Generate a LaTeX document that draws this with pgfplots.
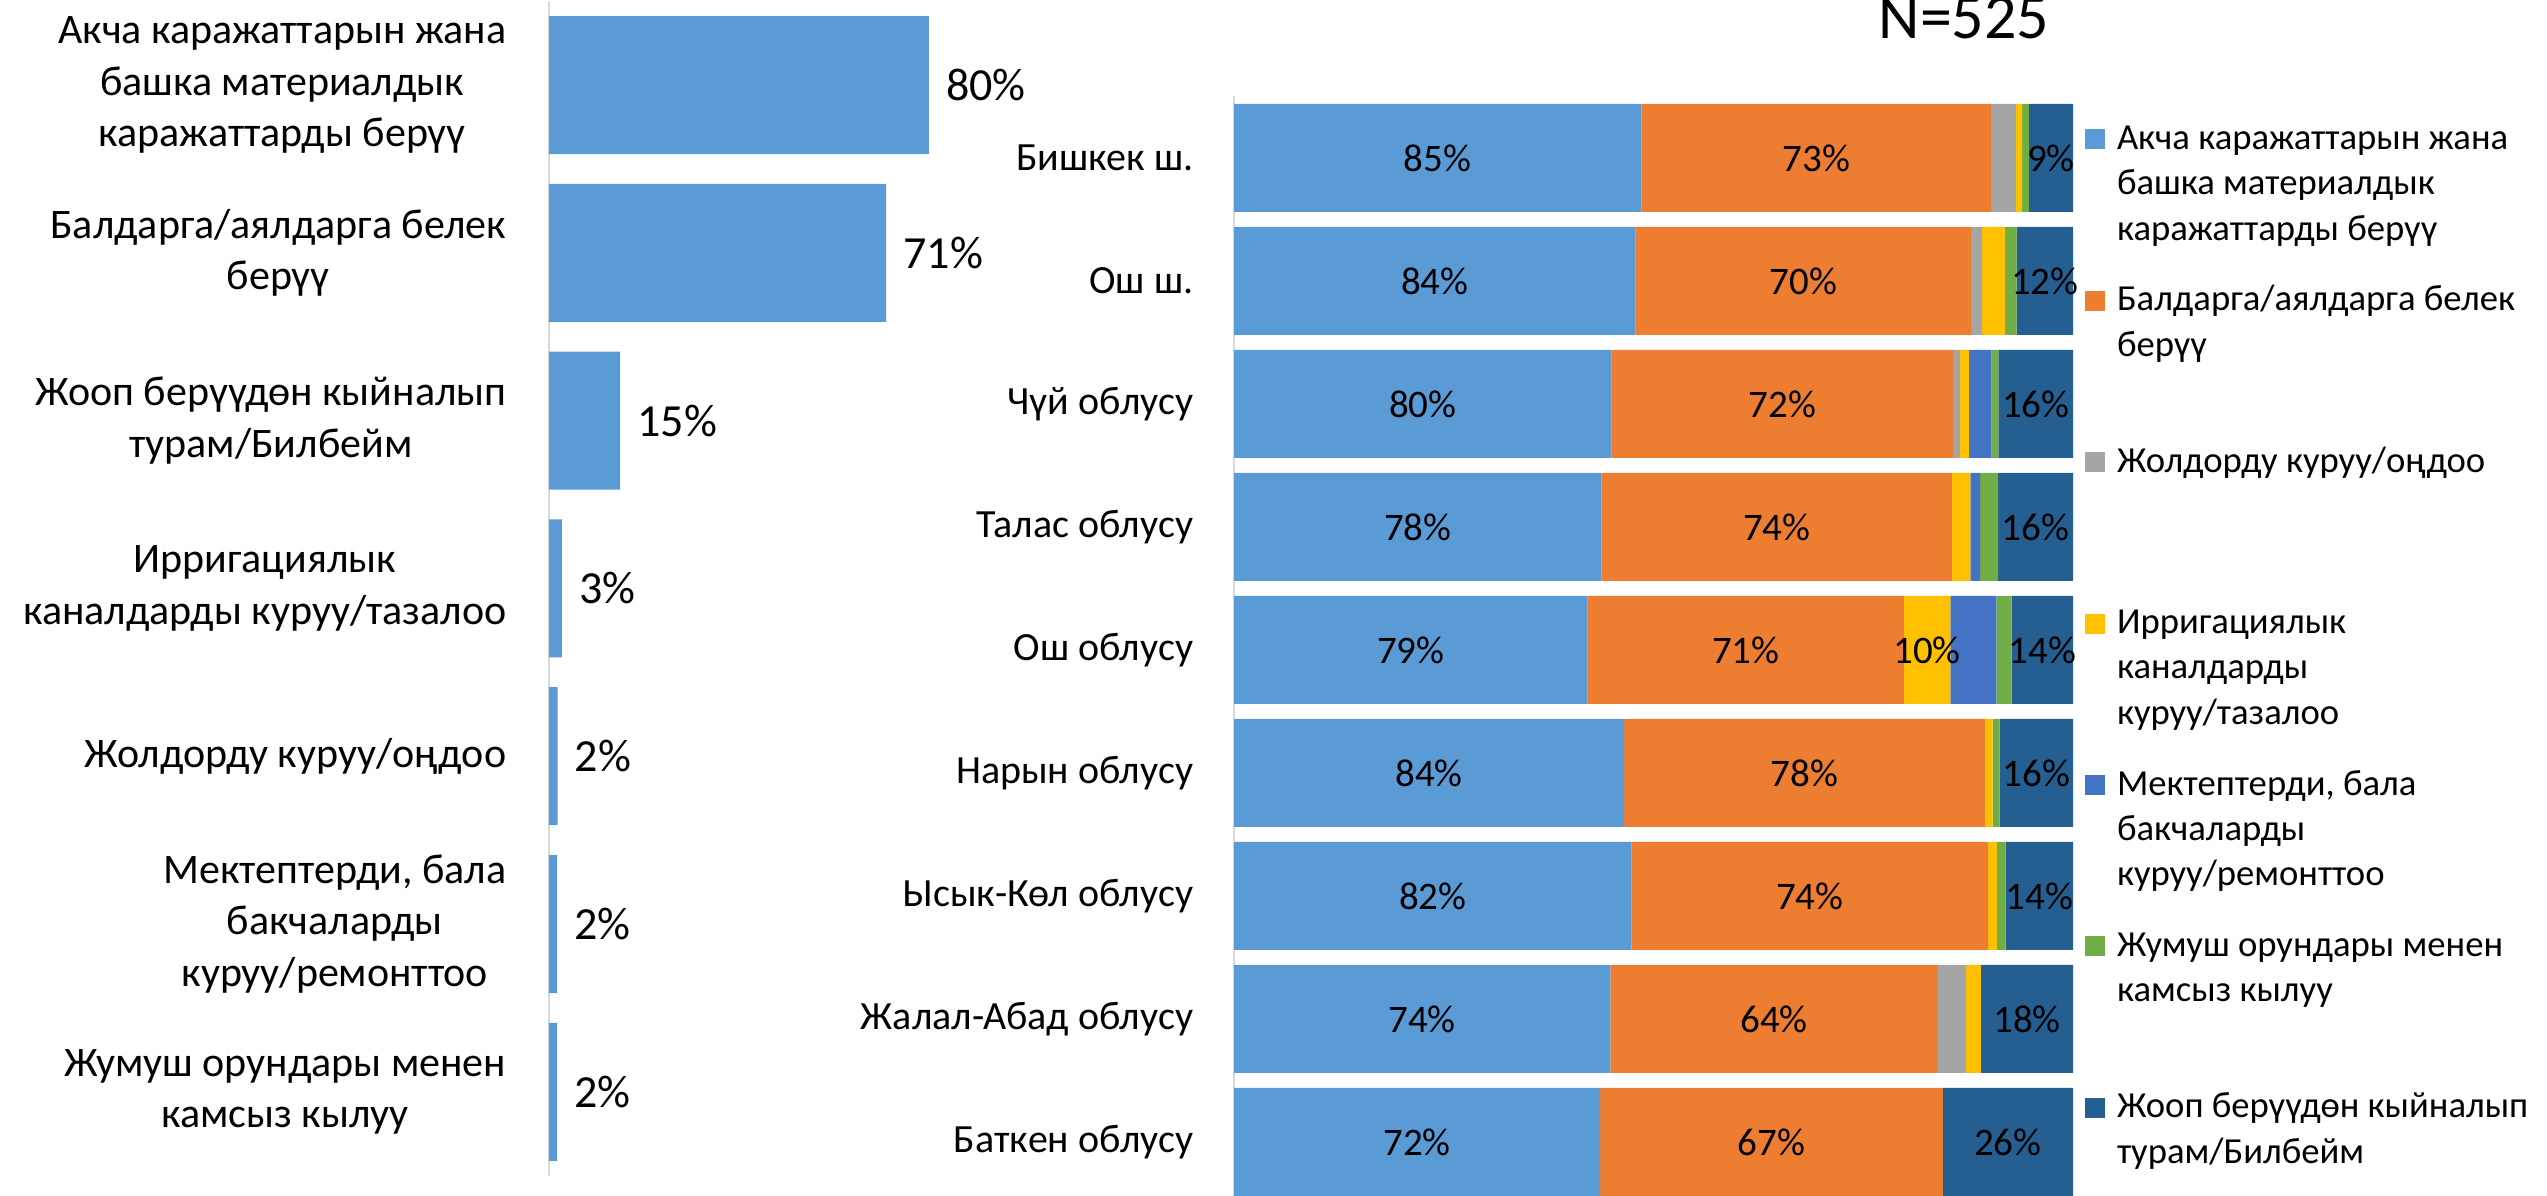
\documentclass[border=0pt]{standalone}
\usepackage{fontspec}
\setmainfont{Carlito}
\usepackage{pgfplots}
\usepackage{pgfplotstable}
\pgfplotsset{compat=1.18}
\definecolor{cA}{HTML}{5B9BD5}
\definecolor{cB}{HTML}{ED7D31}
\definecolor{cC}{HTML}{A5A5A5}
\definecolor{cD}{HTML}{FFC000}
\definecolor{cE}{HTML}{4472C4}
\definecolor{cF}{HTML}{70AD47}
\definecolor{cG}{HTML}{255E91}
\definecolor{axgray}{HTML}{D9D9D9}

\pgfplotstableread{
i v
0 80
1 71
2 15
3 2.7
4 1.8
5 1.7
6 1.7
}\leftdata

\pgfplotstableread{
i a b c d e f g tot
0 85 73 5.2 1.3 0 1.4 9.2 175.1
1 84 70.2 2.3 4.8 0 2.4 11.8 175.5
2 80 72.4 1.4 2.0 4.7 1.5 15.8 177.8
3 78 74.3 0 3.9 2.1 3.8 15.9 178.0
4 79 70.6 0 10.4 10.3 3.4 13.7 187.4
5 84 77.7 0 1.7 0 1.5 15.8 180.7
6 82 73.6 0 1.8 0 1.8 13.9 173.1
7 74 64.4 5.6 2.9 0 0 18.1 165.0
8 72 67.4 0 0 0 0 25.6 165.0
}\rightdata

\newcommand{\pct}[1]{\pgfmathprintnumber[fixed,precision=0,assume math mode=true]{#1}\%}

\begin{document}
\begin{tikzpicture}
\path[use as bounding box] (0,0) rectangle (764.1pt,358.8pt);

% ---------------- left chart ----------------
\begin{axis}[
  at={(164.7pt,358.47pt)}, anchor=north west,
  scale only axis, width=142.5pt, height=352.4pt,
  xbar, bar width=41.4pt,
  xmin=0, xmax=100, ymin=-0.5, ymax=6.5, y dir=reverse,
  axis lines*=left,
  x axis line style={draw=none},
  y axis line style={draw=axgray, line width=0.6pt},
  xtick=\empty, ytick={0,...,6}, major tick length=0pt,
  yticklabels={
    {Акча каражаттарын жана\\башка материалдык\\каражаттарды берүү},
    {Балдарга/аялдарга белек\\берүү},
    {Жооп берүүдөн кыйналып\\турам/Билбейм},
    {Ирригациялык\\каналдарды куруу/тазалоо},
    {Жолдорду куруу/оңдоо},
    {Мектептерди, бала\\бакчаларды\\куруу/ремонттоо},
    {Жумуш орундары менен\\камсыз кылуу}},
  yticklabel style={align=center, font=\fontsize{12.6}{15.4}\selectfont, inner sep=0pt, xshift=-12.6pt},
  clip=false,
  nodes near coords={\pct{\pgfplotspointmeta}},
  every node near coord/.append style={font=\fontsize{13.8}{16.6}\selectfont, inner sep=0pt, anchor=west, xshift=5pt, text=black},
]
\addplot[fill=cA, draw=none] table[x=v, y=i] {\leftdata};
\end{axis}

% ---------------- right chart ----------------
\begin{axis}[
  at={(370.2pt,329.85pt)}, anchor=north west,
  scale only axis, width=251.7pt, height=332.1pt,
  xbar stacked, bar width=32.4pt,
  xmin=0, xmax=100, ymin=-0.5, ymax=8.5, y dir=reverse,
  axis lines*=left,
  x axis line style={draw=none},
  y axis line style={draw=axgray, line width=0.6pt},
  xtick=\empty, ytick={0,...,8}, major tick length=0pt,
  yticklabels={Бишкек ш., Ош ш., Чүй облусу, Талас облусу, Ош облусу, Нарын облусу, Ысык-Көл облусу, Жалал-Абад облусу, Баткен облусу},
  yticklabel style={font=\fontsize{12}{14.6}\selectfont, inner sep=0pt, xshift=-12pt},
  clip=false,
  legend image code/.code={\fill[#1] (0pt,0pt) rectangle (6pt,6pt);},
  legend style={draw=none, fill=none, at={(1,1)}, anchor=north west,
    xshift=3.6pt, yshift=-6.35pt, inner sep=0pt, outer sep=0pt,
    row sep=37.4pt, column sep=3.6pt,
    nodes={inner sep=0pt}, cells={anchor=base west},
    font=\fontsize{11}{13.6}\selectfont},
  every node near coord/.append style={font=\fontsize{11.7}{14}\selectfont, inner sep=0pt, anchor=center, text=black},
]
\addplot[fill=cA, draw=none,
  visualization depends on={\thisrow{a} \as \rv},
  nodes near coords={\pct{\rv}}]
  table[x expr=\thisrow{a}/\thisrow{tot}*100, y=i] {\rightdata};
\addlegendentry{\parbox[t]{130pt}{\raggedright\strut Акча каражаттарын жана\\\strut башка материалдык\\\strut каражаттарды берүү}}
\addplot[fill=cB, draw=none,
  visualization depends on={\thisrow{b} \as \rv},
  nodes near coords={\pct{\rv}}]
  table[x expr=\thisrow{b}/\thisrow{tot}*100, y=i] {\rightdata};
\addlegendentry{\parbox[t]{130pt}{\raggedright\strut Балдарга/аялдарга белек\\\strut берүү\\\strut}}
\addplot[fill=cC, draw=none]
  table[x expr=\thisrow{c}/\thisrow{tot}*100, y=i] {\rightdata};
\addlegendentry{\parbox[t]{130pt}{\raggedright\strut Жолдорду куруу/оңдоо\\\strut\\\strut}}
\addplot[fill=cD, draw=none,
  visualization depends on={\thisrow{d} \as \rv},
  nodes near coords={\pgfmathparse{int(\rv<8)}\ifnum\pgfmathresult=1 \else\pct{\rv}\fi}]
  table[x expr=\thisrow{d}/\thisrow{tot}*100, y=i] {\rightdata};
\addlegendentry{\parbox[t]{130pt}{\raggedright\strut Ирригациялык\\\strut каналдарды\\\strut куруу/тазалоо}}
\addplot[fill=cE, draw=none]
  table[x expr=\thisrow{e}/\thisrow{tot}*100, y=i] {\rightdata};
\addlegendentry{\parbox[t]{130pt}{\raggedright\strut Мектептерди, бала\\\strut бакчаларды\\\strut куруу/ремонттоо}}
\addplot[fill=cF, draw=none]
  table[x expr=\thisrow{f}/\thisrow{tot}*100, y=i] {\rightdata};
\addlegendentry{\parbox[t]{130pt}{\raggedright\strut Жумуш орундары менен\\\strut камсыз кылуу\\\strut}}
\addplot[fill=cG, draw=none,
  visualization depends on={\thisrow{g} \as \rv},
  nodes near coords={\pct{\rv}}]
  table[x expr=\thisrow{g}/\thisrow{tot}*100, y=i] {\rightdata};
\addlegendentry{\parbox[t]{130pt}{\raggedright\strut Жооп берүүдөн кыйналып\\\strut турам/Билбейм\\\strut}}
\end{axis}

\node[anchor=base west, inner sep=0pt, font=\fontsize{19.2}{23}\selectfont] at (563.4pt,347.1pt) {N=525};
\end{tikzpicture}
\end{document}
